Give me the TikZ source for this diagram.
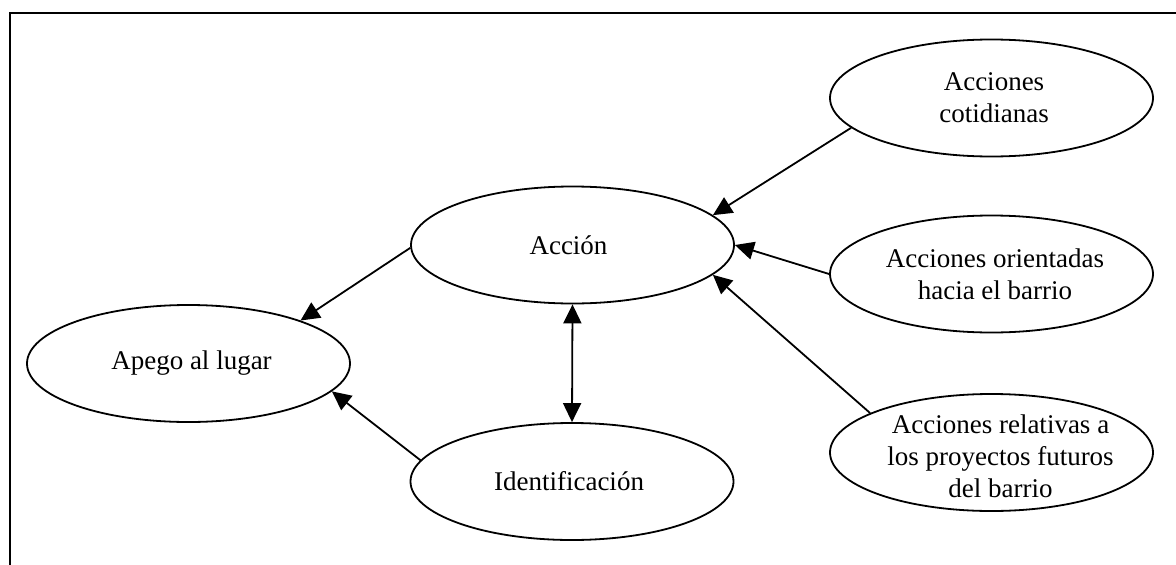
\documentclass[tikz,border=0pt]{standalone}
\usepackage{fontspec}
\setmainfont{Liberation Serif}
\usetikzlibrary{shapes.geometric,arrows.meta}
\begin{document}
\begin{tikzpicture}[x=1pt,y=-1pt,
  oval/.style={ellipse,draw,line width=1.8pt,minimum width=323pt,minimum height=117pt,inner sep=0pt},
  txt/.style={align=center,font=\fontsize{27}{32}\selectfont,inner sep=0pt},
  conn/.style={line width=1.8pt,-{Triangle[length=19pt,width=18pt]}},
  both/.style={line width=1.8pt,{Triangle[length=19pt,width=18pt]}-{Triangle[length=19pt,width=18pt]}},
  frameline/.style={line width=2pt}]
\useasboundingbox (0,0) rectangle (1176,565);
\coordinate (fa) at (10,565);
\coordinate (fb) at (10,13);
\coordinate (fc) at (1176,13);
\draw[frameline] (fa) -- (fb) -- (fc);

\node[oval,label={[txt,name=tapego,xshift=3pt]center:Apego al lugar}] (apego) at (188.5,363.5) {};
\node[oval,label={[txt,name=taccion,xshift=-4pt]center:Acción}] (acc) at (572.5,245) {};
\node[oval,label={[txt,name=tident,xshift=-3pt]center:Identificación}] (ident) at (572,481.5) {};
\node[oval,label={[txt,name=tcot,xshift=2.5pt]center:Acciones\\cotidianas}] (cot) at (991.5,98) {};
\node[oval,label={[txt,name=tori,xshift=3.5pt]center:Acciones orientadas\\hacia el barrio}] (ori) at (991.5,274) {};
\node[oval,label={[txt,name=trel,xshift=9pt,yshift=-4pt]center:Acciones relativas a\\los proyectos futuros\\del barrio}] (rel) at (991.5,452.5) {};

\draw[conn] (cot.192) -- (acc.12);
\draw[conn] (ori.west) -- (acc.east);
\draw[conn] (rel.162) -- (acc.-12);
\draw[both] (acc.south) -- (ident.north);
\draw[conn] (acc.181) -- (apego.21);
\draw[conn] (ident.172) -- (apego.-11.5);
\end{tikzpicture}
\end{document}
